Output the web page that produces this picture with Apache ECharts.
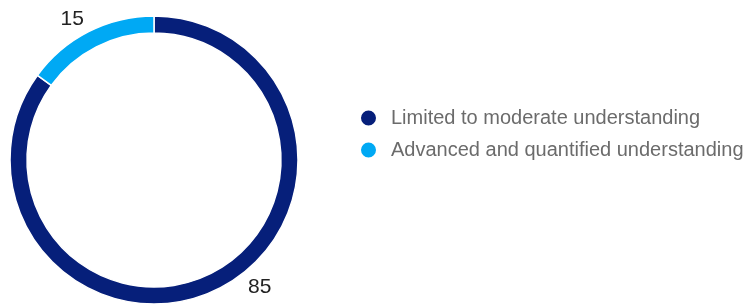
<!DOCTYPE html>
<html>
<head>
    <meta charset="utf-8">
    <title>understanding</title>
    <script src="https://cdn.jsdelivr.net/npm/echarts@6/dist/echarts.min.js"></script>
    <style>
        html, body { margin: 0; padding: 0; background: #fff; }
        #chart { width: 753px; height: 306px; }
    </style>
</head>
<body>
<div id="chart"></div>
<script>
    var categories = ['Limited to moderate understanding', 'Advanced and quantified understanding'];
    var values = [85, 15];
    var colors = ['#061f7a', '#00a9f4'];

    var myChart = echarts.init(document.getElementById('chart'));
    var option = {
        color: colors,
        legend: {
            orient: 'vertical',
            left: 354,
            top: 103,
            icon: 'circle',
            itemWidth: 17,
            itemHeight: 17,
            itemGap: 12,
            textStyle: {
                color: '#6b6b6b',
                fontSize: 20,
                fontFamily: 'Liberation Sans',
                padding: [0, 0, 0, 9]
            },
            data: categories
        },
        series: [{
            type: 'pie',
            center: [154, 160],
            radius: [127, 144],
            startAngle: 90,
            silent: true,
            itemStyle: {
                borderColor: '#fff',
                borderWidth: 1.5
            },
            label: {
                show: true,
                position: 'outside',
                formatter: '{c}',
                color: '#222',
                fontSize: 21,
                fontFamily: 'Liberation Sans'
            },
            labelLine: { show: false, length: 6, length2: 0 },
            labelLayout: function (p) {
                // nudge the two labels to where the original puts them
                return p.dataIndex === 0 ? { dx: 21, dy: -6 } : { dx: 3, dy: -7 };
            },
            data: categories.map(function (c, i) {
                return { name: c, value: values[i] };
            })
        }]
    };
    myChart.setOption(option);
</script>
</body>
</html>
